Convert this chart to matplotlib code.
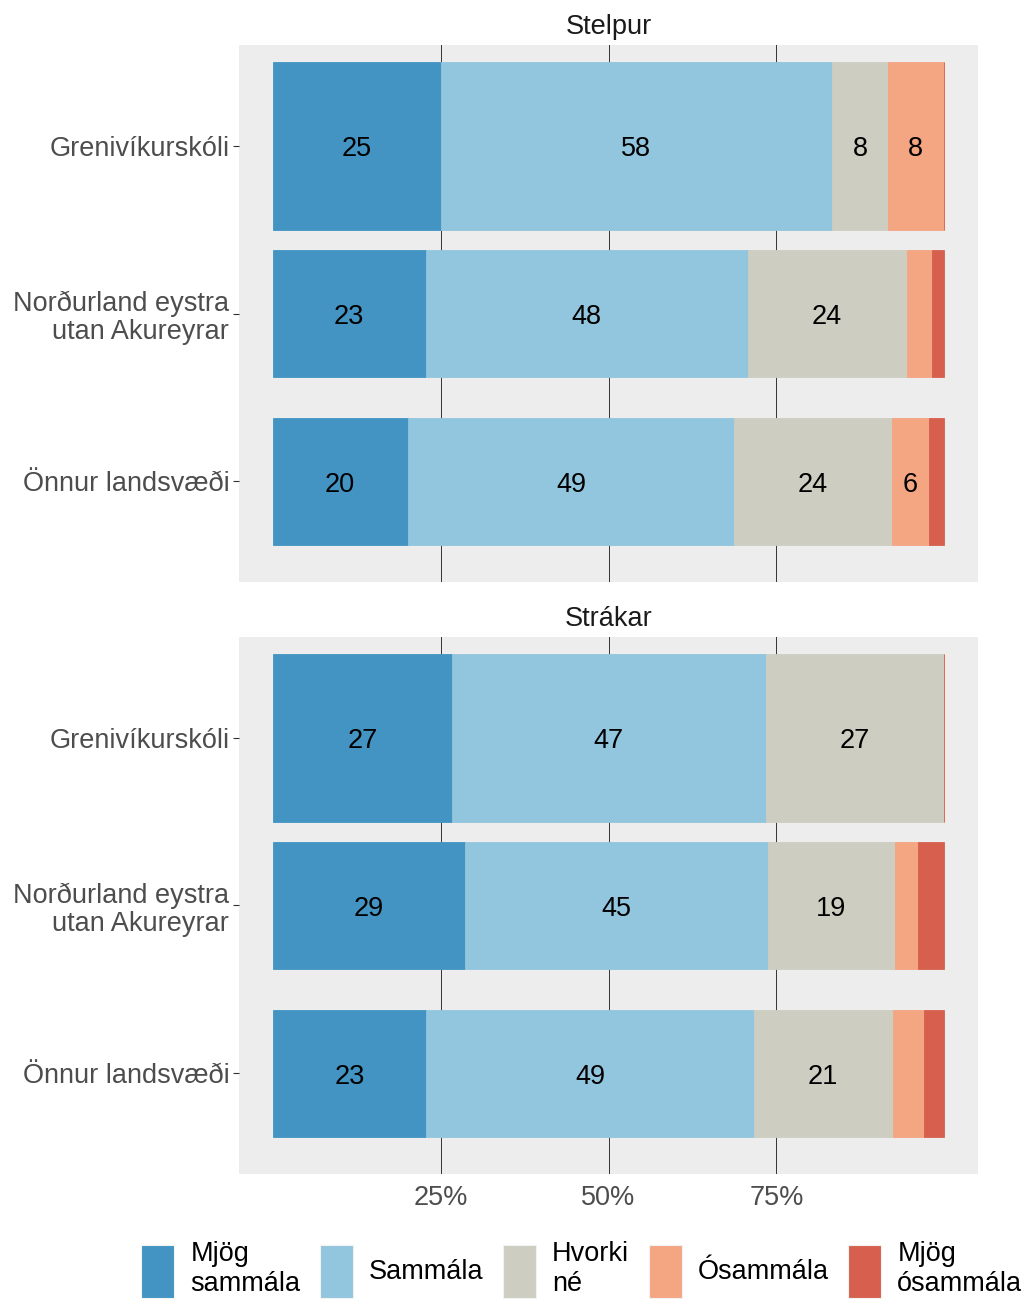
import numpy as np
import matplotlib
matplotlib.use('Agg')
import matplotlib.pyplot as plt
from matplotlib.patches import Patch

plt.rcParams['font.family'] = ['Liberation Sans', 'DejaVu Sans']

# data (percent), rows = schools, columns = answer levels
categories = ['Grenivíkurskóli', 'Norðurland eystra\nutan Akureyrar', 'Önnur landsvæði']
levels = ['Mjög\nsammála', 'Sammála', 'Hvorki\nné', 'Ósammála', 'Mjög\nósammála']
stelpur = [[25.0, 58.3, 8.3, 8.3, 0.0],
           [22.8, 47.9, 23.7, 3.7, 1.9],
           [20.1, 48.6, 23.5, 5.5, 2.3]]
strakar = [[26.7, 46.7, 26.6, 0.0, 0.0],
           [28.6, 45.1, 18.9, 3.4, 4.0],
           [22.9, 48.7, 20.7, 4.6, 3.1]]
groups = ['Stelpur', 'Strákar']

colors = ['#4393C3', '#92C5DE', '#CDCDC1', '#F4A582', '#D6604D']
bar_h = [1.0, 0.76, 0.76]
fs = 19.5
fpx = fs * 100 / 72

fig = plt.figure(figsize=(10.29, 12.99), dpi=100)
W, H = 1029, 1299
panels = [(45, 582), (637, 1174)]

for gi, (title, data) in enumerate(zip(groups, [stelpur, strakar])):
    top, bot = panels[gi]
    ax = fig.add_axes([239 / W, 1 - bot / H, 739 / W, (bot - top) / H])
    vals = np.array(data) / 100
    y = np.arange(len(categories))
    left = np.zeros(len(categories))
    for li in range(len(levels)):
        ax.barh(y, vals[:, li], left=left, height=bar_h, color=colors[li],
                edgecolor=colors[li], linewidth=0.6, zorder=2)
        for yi in range(len(categories)):
            v = data[yi][li]
            if v >= 5:
                ax.text(left[yi] + vals[yi, li] / 2, y[yi] + 0.02, '%d' % np.floor(v + 0.5),
                        ha='center', va='center', fontsize=fs, color='black', zorder=3)
        left += vals[:, li]
    ax.set_xlim(-0.05, 1.05)
    ax.set_ylim(2.6, -0.6)
    ax.set_facecolor('#EDEDED')
    for s in ax.spines.values():
        s.set_visible(False)
    ax.set_xticks([0.25, 0.5, 0.75])
    ax.grid(axis='x', color='#333333', linewidth=0.7, zorder=1)
    ax.set_axisbelow(True)
    ax.tick_params(axis='x', length=0, labelsize=fs, labelcolor='#4D4D4D', pad=8)
    if gi == 0:
        ax.set_xticklabels([])
    else:
        ax.set_xticklabels(['25%', '50%', '75%'])
    ax.set_yticks(y)
    ax.set_yticklabels(categories, linespacing=1.12)
    ax.tick_params(axis='y', length=4, width=0.8, color='#333333', labelsize=fs,
                   labelcolor='#4D4D4D', pad=3)
    ax.set_title(title, fontsize=fs, color='#1A1A1A', pad=8)

handles = [Patch(facecolor=c, edgecolor='#F2F2F2', linewidth=0.8) for c in colors]
key_h = (53 / fpx - 0.245) / 0.65
fig.legend(handles, levels, loc='lower left', bbox_to_anchor=(140 / W, 0.0),
           ncol=5, frameon=False, fontsize=fs, handlelength=33 / fpx, handleheight=key_h,
           handletextpad=16 / fpx, columnspacing=19.5 / fpx, borderpad=0.05, borderaxespad=0,
           labelspacing=0)

fig.savefig('out.png', dpi=100)
